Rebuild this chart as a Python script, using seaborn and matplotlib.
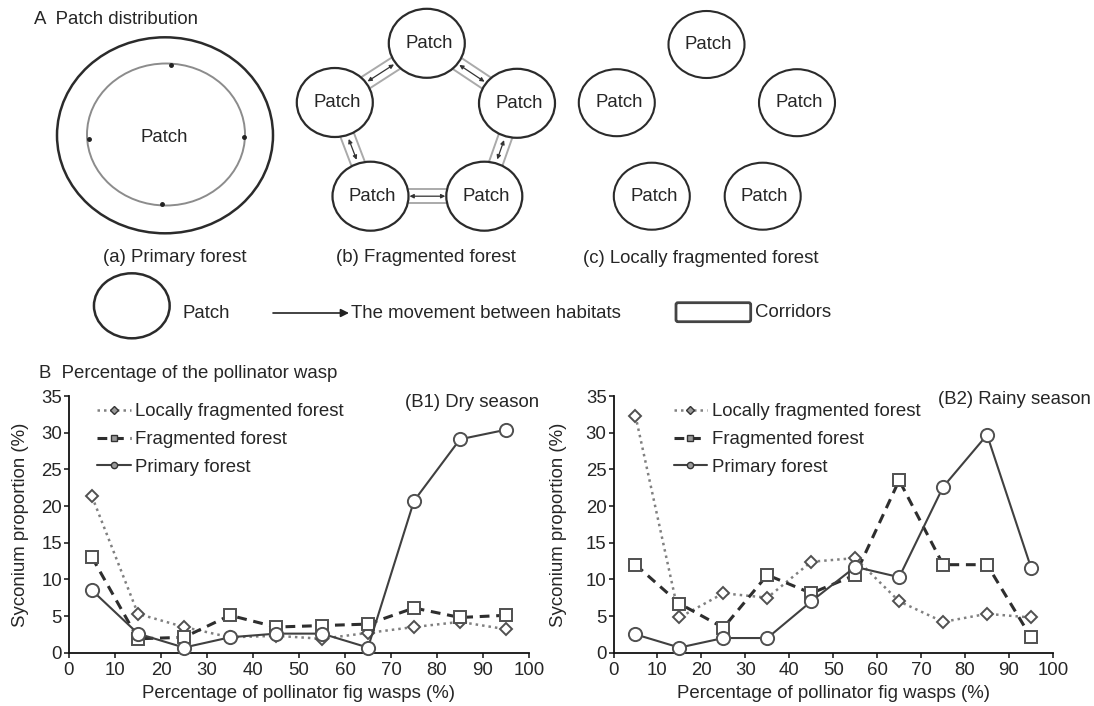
import numpy as np
import seaborn as sns
import matplotlib.pyplot as plt
from matplotlib.patches import Ellipse, Polygon, FancyBboxPatch
from matplotlib.lines import Line2D

# values
pollinator_pct = [5, 15, 25, 35, 45, 55, 65, 75, 85, 95]
habitats = ['Locally fragmented forest', 'Fragmented forest', 'Primary forest']

dry_local = [21.3, 5.3, 3.5, 2.1, 2.3, 1.9, 2.7, 3.5, 4.2, 3.2]
dry_frag = [13.0, 1.9, 2.1, 5.1, 3.5, 3.7, 3.9, 6.1, 4.8, 5.1]
dry_primary = [8.5, 2.6, 0.7, 2.1, 2.6, 2.6, 0.7, 20.7, 29.1, 30.4]

rainy_local = [32.3, 4.8, 8.1, 7.5, 12.4, 12.9, 7.0, 4.2, 5.3, 4.8]
rainy_frag = [12.0, 6.7, 3.4, 10.6, 8.1, 10.6, 23.5, 12.0, 12.0, 2.1]
rainy_primary = [2.5, 0.7, 2.0, 2.0, 7.0, 11.7, 10.3, 22.6, 29.7, 11.6]

x_ticks = list(range(0, 101, 10))
y_ticks = list(range(0, 36, 5))

sns.set_style('ticks')
plt.rcParams['font.family'] = ['Liberation Sans', 'DejaVu Sans']
FS = 13.4

# line styles for the three habitats
styles = {
    'Locally fragmented forest': dict(ls=(0, (1, 1.6)), lw=1.8, color='#808080', marker='D', ms=6),
    'Fragmented forest': dict(ls=(0, (3.2, 2.2)), lw=2.2, color='#2e2e2e', marker='s', ms=8),
    'Primary forest': dict(ls='-', lw=1.5, color='#404040', marker='o', ms=9.5),
}

fig = plt.figure(figsize=(10.94, 7.06), dpi=100)

# overlay in pixel coordinates for the schematic (part A) and panel titles
ov = fig.add_axes([0, 0, 1, 1])
ov.set_xlim(0, 1094)
ov.set_ylim(706, 0)
ov.axis('off')

def patch(cx, cy, w=76, h=69, label='Patch', lw=1.6, dx=2):
    ov.add_patch(Ellipse((cx, cy), w, h, fc='white', ec='#2b2b2b', lw=lw, zorder=2))
    if label:
        ov.text(cx + dx, cy, label, fontsize=FS, ha='center', va='center', zorder=3)

def corridor(p1, p2, r=36, hw=7):
    p1, p2 = np.array(p1, float), np.array(p2, float)
    u = (p2 - p1) / np.linalg.norm(p2 - p1)
    n = np.array([-u[1], u[0]])
    a, b = p1 + u * (r - 8), p2 - u * (r - 8)
    ov.add_patch(Polygon([a + n * hw, b + n * hw, b - n * hw, a - n * hw], closed=True,
                         fc='white', ec='#aaaaaa', lw=1.4, zorder=1))
    s, e = p1 + u * (r + 3), p2 - u * (r + 3)
    ov.annotate('', xy=e, xytext=s, zorder=3,
                arrowprops=dict(arrowstyle='<|-|>', color='#333333', lw=0.9,
                                mutation_scale=6, shrinkA=0, shrinkB=0))

ov.text(34, 19, 'A  Patch distribution', fontsize=FS, ha='left', va='center')

# (a) primary forest
ov.add_patch(Ellipse((165, 135.3), 216, 196, fc='none', ec='#2b2b2b', lw=1.8))
ov.add_patch(Ellipse((166, 134.5), 158, 142, fc='none', ec='#8c8c8c', lw=1.4))
for px, py in [(170.5, 65), (243.5, 136.7), (162.3, 204.3), (88.5, 139.3)]:
    ov.plot(px, py, 'o', color='#222222', ms=2.5)
ov.text(164, 137, 'Patch', fontsize=FS, ha='center', va='center')
ov.text(174.6, 257, '(a) Primary forest', fontsize=FS, ha='center', va='center')

# (b) fragmented forest
frag = [(426.8, 43.3), (517, 103.3), (484.3, 196.2), (370.5, 196.2), (334.8, 102.5)]
for i in range(len(frag)):
    corridor(frag[i], frag[(i + 1) % len(frag)])
for cx, cy in frag:
    patch(cx, cy)
ov.text(426, 257, '(b) Fragmented forest', fontsize=FS, ha='center', va='center')

# (c) locally fragmented forest
local = [(706.5, 44.5), (616.8, 102.7), (797, 102.7), (651.8, 196.2), (762.7, 196.2)]
for cx, cy in local:
    patch(cx, cy, w=76, h=67, lw=1.5)
ov.text(700.8, 258.3, '(c) Locally fragmented forest', fontsize=FS, ha='center', va='center')

# legend row of the schematic
patch(131.8, 305.8, w=75.7, h=65, label=None, lw=1.8)
ov.text(183, 313, 'Patch', fontsize=FS, ha='left', va='center')
ov.annotate('', xy=(349, 313), xytext=(273, 313),
            arrowprops=dict(arrowstyle='-|>', color='#222222', lw=1.2,
                            mutation_scale=12, shrinkA=0, shrinkB=0))
ov.text(351, 313, 'The movement between habitats', fontsize=FS, ha='left', va='center')
ov.add_patch(FancyBboxPatch((676, 302.7), 74.7, 19, boxstyle='round,pad=0,rounding_size=2',
                            fc='white', ec='#444444', lw=2))
ov.text(755, 312.3, 'Corridors', fontsize=FS, ha='left', va='center')

ov.text(39, 373.3, 'B  Percentage of the pollinator wasp', fontsize=FS, ha='left', va='center')

# part B line charts
ax1 = fig.add_axes([69 / 1094, 1 - 652.7 / 706, 460 / 1094, 256.7 / 706])
ax2 = fig.add_axes([613.5 / 1094, 1 - 652.7 / 706, 439.5 / 1094, 256.7 / 706])

panels = [
    (ax1, [dry_local, dry_frag, dry_primary], '(B1) Dry season', 405, 402.7, 0.061, -0.087),
    (ax2, [rainy_local, rainy_frag, rainy_primary], '(B2) Rainy season', 937.5, 399, 0.137, -0.105),
]

for ax, series, title, tx, ty, leg_x, ylab_x in panels:
    ax.set_facecolor('none')
    for name, vals in zip(habitats, series):
        st = styles[name]
        sns.lineplot(x=pollinator_pct, y=vals, ax=ax, color=st['color'], linestyle=st['ls'],
                     lw=st['lw'], marker=st['marker'], ms=st['ms'], mfc='white',
                     mec='#505050', mew=1.4, clip_on=False, zorder=3)
    ax.set_xlim(0, 100)
    ax.set_ylim(0, 35)
    ax.set_xticks(x_ticks)
    ax.set_yticks(y_ticks)
    ax.tick_params(labelsize=FS, length=3.5, width=1.1, color='#111111')
    ax.tick_params(axis='x', pad=3)
    ax.tick_params(axis='y', pad=1.5)
    sns.despine(ax=ax)
    for sp in ['left', 'bottom']:
        ax.spines[sp].set_linewidth(1.3)
        ax.spines[sp].set_color('#111111')
    ax.set_xlabel('Percentage of pollinator fig wasps (%)', fontsize=FS)
    ax.set_ylabel('Syconium proportion (%)', fontsize=FS)
    ax.xaxis.set_label_coords(0.5, -0.124)
    ax.yaxis.set_label_coords(ylab_x, 0.5)

    handles = [Line2D([], [], color=styles[n]['color'], ls=styles[n]['ls'], lw=styles[n]['lw'],
                      marker=styles[n]['marker'], ms=4.5 if n != habitats[0] else 3.6,
                      mfc='#9a9a9a', mec='#333333', mew=1.0) for n in habitats]
    ax.legend(handles, habitats, loc='upper left', bbox_to_anchor=(leg_x, 0.972), frameon=False,
              fontsize=FS, borderpad=0, borderaxespad=0, handlelength=1.8,
              handletextpad=0.25, labelspacing=0.58)
    ov.text(tx, ty, title, fontsize=FS, ha='left', va='center')

fig.savefig('out.png', dpi=100)
